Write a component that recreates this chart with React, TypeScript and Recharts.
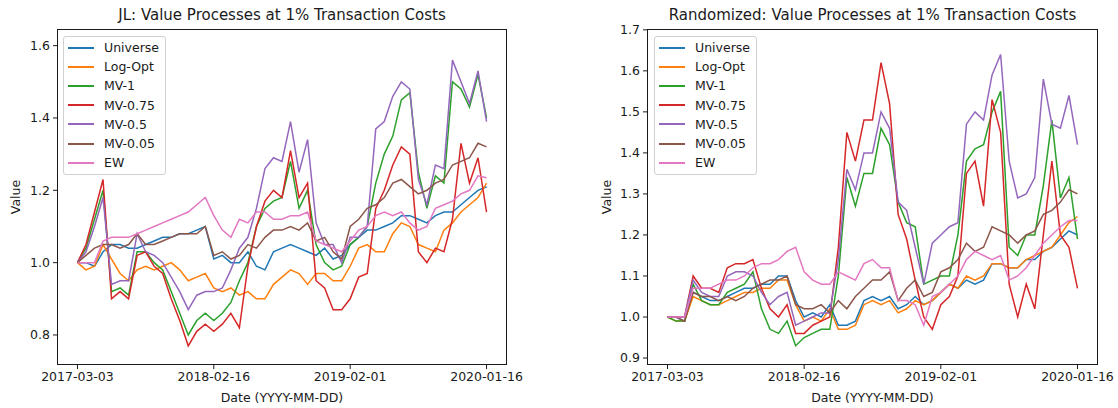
import React from "react";
import { LineChart, Line, XAxis, YAxis } from "recharts";

const tickIdx = [0, 240, 480, 720];
const tickDates = ["2017-03-03", "2018-02-16", "2019-02-01", "2020-01-16"];
const STEP = 15; // trading days between samples

const names = ["Universe", "Log-Opt", "MV-1", "MV-0.75", "MV-0.5", "MV-0.05", "EW"];
const colors = ["#1f77b4", "#ff7f0e", "#2ca02c", "#d62728", "#9467bd", "#8c564b", "#e377c2"];

// JL panel
const jlUniverse = [
  1.0, 1.0, 0.99, 1.03, 1.05, 1.05, 1.04, 1.04, 1.05, 1.06, 1.07, 1.07, 1.08, 1.08, 1.09, 1.1,
  1.01, 1.02, 1.0, 1.0, 1.03, 0.99, 0.98, 1.03, 1.04, 1.05, 1.04, 1.03, 1.02, 1.04, 1.01, 1.02, 1.05,
  1.07, 1.09, 1.09, 1.1, 1.11, 1.13, 1.13, 1.12, 1.11, 1.13, 1.14, 1.14, 1.16, 1.18, 1.2, 1.21,
];
const jlLogOpt = [
  1.0, 0.98, 0.99, 1.05, 1.01, 0.97, 0.95, 0.98, 0.99, 0.98, 0.99, 1.0, 0.98, 0.95, 0.96, 0.97,
  0.93, 0.92, 0.93, 0.91, 0.92, 0.9, 0.9, 0.94, 0.96, 0.98, 0.97, 0.94, 0.97, 0.97, 0.95, 0.95, 0.99,
  1.04, 1.05, 1.03, 1.03, 1.08, 1.11, 1.1, 1.05, 1.04, 1.03, 1.09, 1.11, 1.14, 1.16, 1.18, 1.22,
];
const jlMv1 = [
  1.0, 1.04, 1.12, 1.2, 0.92, 0.93, 0.91, 1.03, 1.03, 1.0, 0.98, 0.92, 0.86, 0.8, 0.84, 0.86,
  0.84, 0.86, 0.89, 0.95, 1.0, 1.1, 1.15, 1.17, 1.18, 1.28, 1.15, 1.2, 1.05, 1.0, 0.98, 0.99, 1.05,
  1.07, 1.1, 1.22, 1.3, 1.35, 1.45, 1.47, 1.25, 1.15, 1.24, 1.22, 1.5, 1.48, 1.43, 1.52, 1.4,
];
const jlMv075 = [
  1.0, 1.05, 1.14, 1.23, 0.9, 0.92, 0.9, 1.02, 1.03, 0.99, 0.97, 0.9, 0.84, 0.77, 0.81, 0.83,
  0.81, 0.83, 0.86, 0.82, 0.99, 1.1, 1.17, 1.2, 1.18, 1.31, 1.18, 1.22, 0.95, 0.93, 0.87, 0.87, 0.9,
  0.96, 0.97, 1.15, 1.2, 1.27, 1.32, 1.3, 1.03, 1.0, 1.04, 1.03, 1.12, 1.33, 1.22, 1.29, 1.14,
];
const jlMv05 = [
  1.0, 1.03, 1.1, 1.18, 0.94, 0.95, 0.95, 1.08, 1.03, 1.02, 1.0, 0.96, 0.92, 0.87, 0.91, 0.92,
  0.92, 0.93, 0.98, 1.04, 1.07, 1.15, 1.26, 1.29, 1.28, 1.39, 1.25, 1.34, 1.11, 1.05, 1.05, 1.0, 1.07,
  1.07, 1.1, 1.37, 1.39, 1.46, 1.5, 1.48, 1.23, 1.16, 1.27, 1.26, 1.56, 1.5, 1.44, 1.53, 1.39,
];
const jlMv005 = [
  1.0, 1.02, 1.04, 1.05, 1.05, 1.04, 1.05, 1.08, 1.05, 1.05, 1.06, 1.07, 1.08, 1.08, 1.08, 1.1,
  1.02, 1.03, 1.01, 1.02, 1.05, 1.04, 1.07, 1.09, 1.09, 1.1, 1.09, 1.11, 1.06, 1.07, 1.03, 1.01, 1.1,
  1.12, 1.15, 1.16, 1.18, 1.22, 1.23, 1.21, 1.19, 1.2, 1.22, 1.23, 1.27, 1.28, 1.29, 1.33, 1.32,
];
const jlEw = [
  1.0, 1.0, 1.0, 1.06, 1.07, 1.07, 1.07, 1.08, 1.09, 1.1, 1.11, 1.12, 1.13, 1.14, 1.16, 1.18,
  1.13, 1.09, 1.07, 1.12, 1.11, 1.14, 1.14, 1.12, 1.12, 1.13, 1.13, 1.14, 1.06, 1.05, 1.04, 1.03, 1.06,
  1.09, 1.1, 1.13, 1.14, 1.13, 1.14, 1.11, 1.09, 1.1, 1.15, 1.16, 1.17, 1.19, 1.2, 1.24, 1.235,
];

// Randomized panel
const rdUniverse = [
  1.0, 1.0, 0.99, 1.06, 1.05, 1.04, 1.04, 1.05, 1.06, 1.07, 1.07, 1.08, 1.08, 1.1, 1.1, 1.04,
  1.0, 1.01, 1.0, 1.03, 0.98, 0.98, 0.99, 1.04, 1.05, 1.04, 1.05, 1.02, 1.03, 1.05, 1.03, 1.04, 1.06,
  1.08, 1.07, 1.09, 1.08, 1.09, 1.13, 1.13, 1.12, 1.12, 1.14, 1.14, 1.16, 1.17, 1.19, 1.21, 1.2,
];
const rdLogOpt = [
  1.0, 0.99, 0.99, 1.05, 1.04, 1.03, 1.03, 1.04, 1.05, 1.06, 1.06, 1.07, 1.07, 1.09, 1.09, 1.03,
  0.99, 1.0, 0.99, 1.02, 0.97, 0.97, 0.98, 1.03, 1.04, 1.03, 1.04, 1.01, 1.02, 1.04, 1.03, 1.04, 1.06,
  1.08, 1.07, 1.1, 1.09, 1.1, 1.13, 1.13, 1.12, 1.12, 1.14, 1.15, 1.16, 1.17, 1.2, 1.23, 1.245,
];
const rdMv1 = [
  1.0, 0.99, 0.99, 1.08, 1.04, 1.03, 1.03, 1.06, 1.07, 1.08, 1.11, 1.02, 0.97, 0.96, 0.99, 0.93,
  0.95, 0.96, 0.97, 0.97, 1.1, 1.34, 1.27, 1.35, 1.35, 1.46, 1.42, 1.28, 1.23, 1.22, 1.08, 1.09, 1.1,
  1.1, 1.2, 1.38, 1.41, 1.42, 1.5, 1.55, 1.17, 1.15, 1.2, 1.2, 1.32, 1.48, 1.29, 1.34, 1.19,
];
const rdMv075 = [
  1.0, 1.0, 1.0, 1.1, 1.07, 1.07, 1.06, 1.12, 1.13, 1.13, 1.14, 1.07, 1.02, 1.0, 1.03, 0.96,
  0.96, 0.98, 0.99, 1.0, 1.17, 1.45, 1.38, 1.48, 1.48, 1.62, 1.52, 1.25, 1.19, 1.09, 1.0, 0.97, 1.03,
  1.05, 1.1, 1.35, 1.38, 1.27, 1.53, 1.45, 1.08, 1.0, 1.08, 1.02, 1.2, 1.38, 1.2, 1.17, 1.07,
];
const rdMv05 = [
  1.0, 1.0, 1.0, 1.09, 1.06, 1.05, 1.05, 1.1, 1.11, 1.11, 1.1, 1.06, 1.03, 1.05, 1.06, 0.98,
  0.99, 1.0, 1.01, 1.01, 1.14, 1.36, 1.31, 1.4, 1.4, 1.5, 1.46, 1.28, 1.26, 1.17, 1.08, 1.18, 1.2,
  1.22, 1.23, 1.47, 1.5, 1.48, 1.59, 1.64, 1.38, 1.29, 1.3, 1.34, 1.58, 1.47, 1.46, 1.54, 1.42,
];
const rdMv005 = [
  1.0, 1.0, 0.99, 1.06, 1.05, 1.05, 1.04, 1.05, 1.04, 1.05, 1.07, 1.08, 1.09, 1.09, 1.1, 1.03,
  1.02, 1.02, 1.03, 1.01, 1.04, 1.02, 1.05, 1.07, 1.09, 1.09, 1.11, 1.04, 1.07, 1.09, 1.05, 1.06, 1.11,
  1.12, 1.14, 1.18, 1.16, 1.17, 1.22, 1.21, 1.2, 1.18, 1.2, 1.21, 1.25, 1.26, 1.28, 1.31, 1.3,
];
const rdEw = [
  1.0, 1.0, 1.0, 1.07, 1.07, 1.07, 1.08, 1.09, 1.09, 1.1, 1.12, 1.13, 1.13, 1.14, 1.16, 1.17,
  1.11, 1.09, 1.08, 1.08, 1.11, 1.1, 1.09, 1.13, 1.14, 1.12, 1.12, 1.04, 1.04, 1.03, 0.98, 1.05, 1.06,
  1.08, 1.1, 1.14, 1.16, 1.15, 1.14, 1.15, 1.09, 1.1, 1.12, 1.15, 1.18, 1.2, 1.22, 1.235, 1.235,
];

const jlTicks = [0.8, 1.0, 1.2, 1.4, 1.6];
const rdTicks = [0.9, 1.0, 1.1, 1.2, 1.3, 1.4, 1.5, 1.6, 1.7];

const FONT = "'DejaVu Sans', sans-serif";
const INK = "#1a1a1a";

function toRows(series: number[][]) {
  return series[0].map((_, i) => {
    const row: Record<string, number> = { t: i * STEP };
    series.forEach((s, k) => {
      row[names[k]] = s[i];
    });
    return row;
  });
}

const jlRows = toRows([jlUniverse, jlLogOpt, jlMv1, jlMv075, jlMv05, jlMv005, jlEw]);
const rdRows = toRows([rdUniverse, rdLogOpt, rdMv1, rdMv075, rdMv05, rdMv005, rdEw]);

function LegendBox({ left }: { left: number }) {
  return (
    <div
      style={{
        position: "absolute",
        left,
        top: 36,
        background: "rgba(255,255,255,0.8)",
        border: "1px solid #d0d0d0",
        borderRadius: 3,
        padding: "1px 6px 2px 4px",
        fontFamily: FONT,
        fontSize: 12.5,
        color: INK,
      }}
    >
      {names.map((n, i) => (
        <div key={n} style={{ display: "flex", alignItems: "center", height: 19.2 }}>
          <span
            style={{
              display: "inline-block",
              width: 26,
              height: 0,
              borderTop: `2px solid ${colors[i]}`,
              marginRight: 10,
            }}
          />
          <span>{n}</span>
        </div>
      ))}
    </div>
  );
}

type PanelProps = {
  left: number;
  width: number;
  yAxisW: number;
  rightM: number;
  domain: [number, number];
  yTicks: number[];
  title: string;
  rows: Record<string, number>[];
  legendLeft: number;
  valueX: number;
};

function Panel({ left, width, yAxisW, rightM, domain, yTicks, title, rows, legendLeft, valueX }: PanelProps) {
  const plotL = yAxisW;
  const plotR = width - rightM;
  const top = 29;
  const bottom = 365;
  const cx = (plotL + plotR) / 2;
  const label = {
    position: "absolute" as const,
    whiteSpace: "nowrap" as const,
    fontFamily: FONT,
    color: INK,
  };
  return (
    <div style={{ position: "absolute", left, top: 0, width, height: 408 }}>
      <LineChart width={width} height={408} data={rows} margin={{ top, right: rightM, bottom: 0, left: 0 }}>
        <XAxis
          dataKey="t"
          type="number"
          domain={[-36, 756]}
          allowDataOverflow
          ticks={tickIdx}
          tickFormatter={(v) => tickDates[tickIdx.indexOf(v)] ?? ""}
          height={408 - bottom}
          axisLine={false}
          tickLine={{ stroke: INK }}
          tickSize={4}
          tickMargin={3}
          tick={{ fill: INK, fontSize: 12.5, fontFamily: FONT }}
        />
        <YAxis
          type="number"
          domain={domain}
          allowDataOverflow
          ticks={yTicks}
          tickFormatter={(v) => Number(v).toFixed(1)}
          width={yAxisW}
          axisLine={false}
          tickLine={{ stroke: INK }}
          tickSize={4}
          tickMargin={3}
          tick={{ fill: INK, fontSize: 12.5, fontFamily: FONT }}
        />
        {names.map((n, i) => (
          <Line
            key={n}
            type="linear"
            dataKey={n}
            stroke={colors[i]}
            strokeWidth={1.5}
            dot={false}
            isAnimationActive={false}
          />
        ))}
      </LineChart>
      <div
        style={{
          position: "absolute",
          left: plotL,
          top,
          width: plotR - plotL,
          height: bottom - top,
          boxSizing: "border-box",
          border: `1px solid ${INK}`,
          pointerEvents: "none",
        }}
      />
      <LegendBox left={legendLeft} />
      <div style={{ ...label, left: cx, top: 15, transform: "translate(-50%, -50%)", fontSize: 15 }}>{title}</div>
      <div style={{ ...label, left: cx, top: 397, transform: "translate(-50%, -50%)", fontSize: 12.5 }}>
        Date (YYYY-MM-DD)
      </div>
      <div
        style={{
          ...label,
          left: valueX,
          top: (top + bottom) / 2,
          transform: "translate(-50%, -50%) rotate(-90deg)",
          fontSize: 12.5,
        }}
      >
        Value
      </div>
    </div>
  );
}

export default function App() {
  return (
    <div style={{ position: "absolute", left: 0, top: 0, width: 1118, height: 408, background: "#fff" }}>
      <Panel
        left={0}
        width={560}
        yAxisW={57}
        rightM={53}
        domain={[0.717, 1.646]}
        yTicks={jlTicks}
        title="JL: Value Processes at 1% Transaction Costs"
        rows={jlRows}
        legendLeft={63}
        valueX={15}
      />
      <Panel
        left={560}
        width={558}
        yAxisW={87}
        rightM={20}
        domain={[0.883, 1.702]}
        yTicks={rdTicks}
        title="Randomized: Value Processes at 1% Transaction Costs"
        rows={rdRows}
        legendLeft={94}
        valueX={46}
      />
    </div>
  );
}
